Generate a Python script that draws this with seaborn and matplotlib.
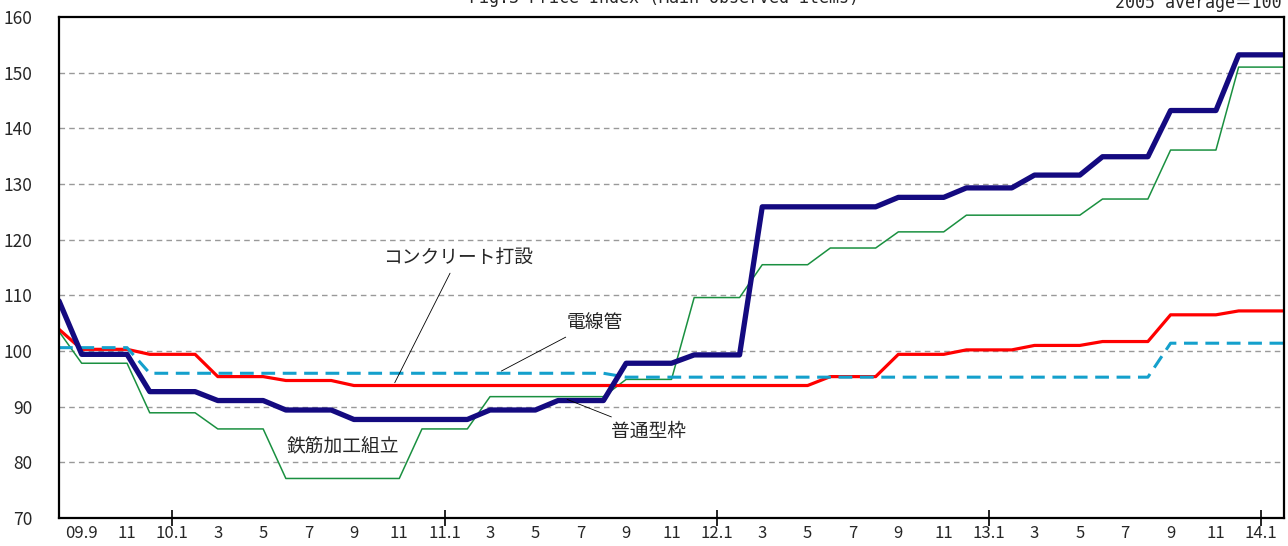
import matplotlib
matplotlib.use("Agg")
import matplotlib.pyplot as plt
import seaborn as sns
import pandas as pd

# months 2009.8 - 2014.2
months = pd.period_range("2009-08", "2014-02", freq="M")

# 普通型枠 (navy, thick)
futsu_katawaku = [109.0,
                  99.4, 99.4, 99.4, 92.7, 92.7, 92.7, 91.1, 91.1, 91.1, 89.4, 89.4, 89.4,
                  87.7, 87.7, 87.7, 87.7, 87.7, 87.7, 89.4, 89.4, 89.4, 91.1, 91.1, 91.1,
                  97.8, 97.8, 97.8, 99.3, 99.3, 99.3,
                  125.9, 125.9, 125.9, 125.9, 125.9, 125.9, 127.6, 127.6, 127.6,
                  129.3, 129.3, 129.3, 131.6, 131.6, 131.6, 134.9, 134.9, 134.9,
                  143.2, 143.2, 143.2, 153.2, 153.2, 153.2]

# 鉄筋加工組立 (green, thin)
tekkin = [103.5,
          97.8, 97.8, 97.8, 88.9, 88.9, 88.9, 86.0, 86.0, 86.0,
          77.1, 77.1, 77.1, 77.1, 77.1, 77.1, 86.0, 86.0, 86.0,
          91.8, 91.8, 91.8, 91.8, 91.8, 91.8, 94.9, 94.9, 94.9,
          109.6, 109.6, 109.6, 115.5, 115.5, 115.5, 118.5, 118.5, 118.5,
          121.4, 121.4, 121.4, 124.4, 124.4, 124.4, 124.4, 124.4, 124.4,
          127.3, 127.3, 127.3, 136.1, 136.1, 136.1, 151.0, 151.0, 151.0]

# コンクリート打設 (red)
concrete = [103.9,
            100.3, 100.3, 100.3, 99.4, 99.4, 99.4, 95.4, 95.4, 95.4, 94.7, 94.7, 94.7,
            93.8, 93.8, 93.8, 93.8, 93.8, 93.8, 93.8, 93.8, 93.8, 93.8, 93.8,
            93.8, 93.8, 93.8, 93.8, 93.8, 93.8, 93.8, 93.8, 93.8, 93.8,
            95.4, 95.4, 95.4, 99.4, 99.4, 99.4, 100.2, 100.2, 100.2,
            101.0, 101.0, 101.0, 101.7, 101.7, 101.7, 106.5, 106.5, 106.5,
            107.2, 107.2, 107.2]

# 電線管 (blue dashed)
densenkan = [100.6, 100.6, 100.6, 100.6,
             96.0, 96.0, 96.0, 96.0, 96.0, 96.0, 96.0, 96.0, 96.0, 96.0, 96.0,
             96.0, 96.0, 96.0, 96.0, 96.0, 96.0, 96.0, 96.0, 96.0, 96.0,
             95.3, 95.3, 95.3, 95.3, 95.3, 95.3, 95.3, 95.3, 95.3, 95.3, 95.3, 95.3,
             95.3, 95.3, 95.3, 95.3, 95.3, 95.3, 95.3, 95.3, 95.3, 95.3, 95.3, 95.3,
             101.4, 101.4, 101.4, 101.4, 101.4, 101.4]

df = pd.DataFrame({"i": range(len(months)),
                   "普通型枠": futsu_katawaku,
                   "鉄筋加工組立": tekkin,
                   "コンクリート打設": concrete,
                   "電線管": densenkan})

# tick labels every 2 months from 09.9
tick_pos = list(range(1, len(months), 2))
tick_labels = []
for p in tick_pos:
    m = months[p]
    if m.month == 1 or p == 1:
        tick_labels.append(f"{m.year % 100:02d}.{m.month}")
    else:
        tick_labels.append(str(m.month))
jan_pos = [i for i, m in enumerate(months) if m.month == 1]

sns.set_style("white")
plt.rcParams["font.family"] = ["Noto Sans CJK JP", "DejaVu Sans"]

fig = plt.figure(figsize=(12.88, 5.46), dpi=100)
ax = fig.add_axes([59 / 1288, 28 / 546, 1225 / 1288, 501 / 546])

sns.lineplot(data=df, x="i", y="鉄筋加工組立", ax=ax, color="#1a9040", lw=1.1)
sns.lineplot(data=df, x="i", y="コンクリート打設", ax=ax, color="#ff0000", lw=2.3)
sns.lineplot(data=df, x="i", y="電線管", ax=ax, color="#14a0cc", lw=2.2)
ax.lines[-1].set_dashes([4.5, 2.5])
sns.lineplot(data=df, x="i", y="普通型枠", ax=ax, color="#140a80", lw=3.8)

ax.set_xlim(0, len(months) - 1)
ax.set_ylim(70, 160)
ax.set_yticks(range(70, 161, 10))
ax.set_xlabel("")
ax.set_ylabel("")

for v in range(80, 160, 10):
    ax.axhline(v, color="#999999", lw=1, ls=(0, (4, 3)), zorder=0)

for s in ax.spines.values():
    s.set_color("black")
    s.set_linewidth(1.6)

ax.set_xticks(tick_pos, tick_labels)
ax.set_xticks(range(len(months)), minor=True)
ax.tick_params(axis="x", which="both", direction="in", length=5, width=1.2,
               labelsize=12, pad=5, color="black")
ax.tick_params(axis="y", length=0, labelsize=12.5, pad=19)

sec = ax.secondary_xaxis("bottom")
sec.set_xticks(jan_pos, [""] * len(jan_pos))
sec.tick_params(direction="inout", length=11, width=1.2, color="black")
sec.spines["bottom"].set_visible(False)

txt = dict(fontsize=13.5, ha="center", va="center")
line = dict(arrowstyle="-", lw=0.6, color="black", shrinkA=2, shrinkB=0)
ax.annotate("コンクリート打設", xy=(14.8, 94.3), xytext=(17.6, 116.9),
            arrowprops=line, **txt)
ax.annotate("電線管", xy=(19.5, 96.4), xytext=(23.6, 105.2),
            arrowprops=line, **txt)
ax.annotate("普通型枠", xy=(22.4, 91.3), xytext=(26.0, 85.5),
            arrowprops=line, **txt)
ax.text(12.5, 82.9, "鉄筋加工組立", **txt)

head = ["DejaVu Sans Mono", "Noto Sans CJK JP"]
fig.text(664 / 1288, 1 - 3 / 546, "Fig.3 Price Index (Main observed items)",
         ha="center", va="baseline", fontsize=12, family=head)
fig.text(1282 / 1288, 1 - 8 / 546, "2005 average＝100",
         ha="right", va="baseline", fontsize=12, family=head)

fig.savefig("out.png", dpi=100)
